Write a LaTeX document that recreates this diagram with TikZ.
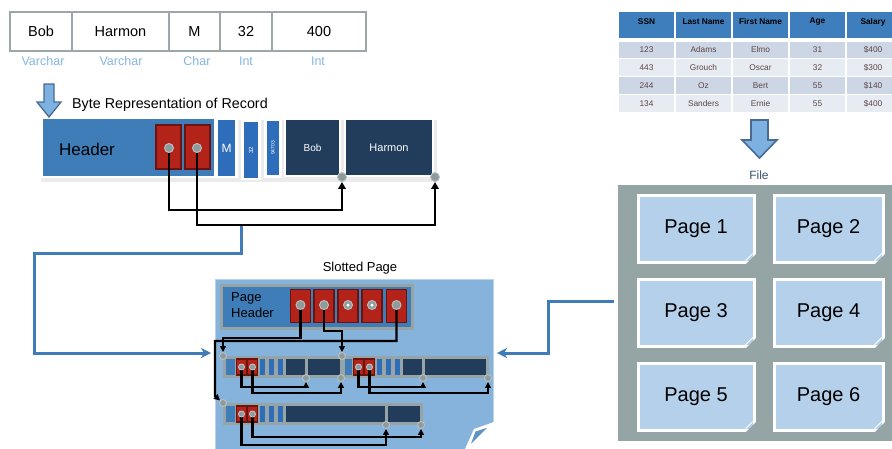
\documentclass[tikz,border=0pt]{standalone}
\usepackage{fontspec}
\setmainfont{Liberation Sans}
\usetikzlibrary{arrows.meta,calc}
\definecolor{cellgray}{HTML}{9BA7A8}
\definecolor{typeblue}{HTML}{86B6E0}
\definecolor{headblue}{HTML}{3F7DB8}
\definecolor{redfill}{HTML}{B3231A}
\definecolor{reddark}{HTML}{6A1410}
\definecolor{midblue}{HTML}{2E6DBA}
\definecolor{navy}{HTML}{213D5B}
\definecolor{pageblue}{HTML}{86B3DC}
\definecolor{pageedge}{HTML}{B9D3EC}
\definecolor{recgray}{HTML}{97A4A6}
\definecolor{filegray}{HTML}{95A4A5}
\definecolor{tileblue}{HTML}{B4D0EA}
\definecolor{connblue}{HTML}{3F7CB9}
\definecolor{tblhead}{HTML}{3F7EBD}
\definecolor{rowA}{HTML}{CCD6E5}
\definecolor{rowB}{HTML}{E7EBF2}
\definecolor{rowtext}{HTML}{5E4545}
\definecolor{pingray}{HTML}{8E9A9B}
\definecolor{pinedge}{HTML}{B8C2C3}
\definecolor{filetext}{HTML}{3B5470}
\definecolor{arrowfill}{HTML}{7DB1E1}
\definecolor{arrowdraw}{HTML}{4A6B8F}
\definecolor{foldblue}{HTML}{5F93C4}
\newcommand{\fsz}[1]{\fontsize{#1}{#1}\selectfont}
\newcommand{\dogear}[1]{%
  \fill[filegray] ($(#1.south east)+(3,-12)$) -- ($(#1.south east)+(3,3)$) -- ($(#1.south east)+(-12,3)$) -- cycle;
  \fill[white] ($(#1.south east)+(0.8,-13)$) -- ($(#1.south east)+(-13,0.8)$) .. controls ($(#1.south east)+(-9,-5)$) and ($(#1.south east)+(-5,-9)$) .. ($(#1.south east)+(0.8,-13)$) -- cycle;}
\pgfdeclarelayer{front}
\pgfsetlayers{main,front}
\begin{document}
\begin{tikzpicture}[x=1pt,y=-1pt,
  rc/.style={draw=cellgray,line width=2.8pt,minimum height=39pt,inner sep=0pt,font=\fsz{14.5}},
  typelbl/.style={text=typeblue,font=\fsz{12.5},inner sep=0pt},
  whbox/.style={draw=white,line width=2.8pt,inner sep=0pt},
  redslot/.style={fill=redfill,draw=reddark,line width=1.8pt,inner sep=0pt},
  pinc/.style={circle,fill=pingray,draw=pinedge,line width=0.9pt,inner sep=0pt,minimum size=#1},
  pinc/.default=9pt,
  blk/.style={draw=black,line width=2.5pt,-{Triangle[length=7pt,width=7.5pt]}},
  blks/.style={draw=black,line width=2.3pt,-{Triangle[length=6pt,width=6pt]}},
  conn/.style={draw=connblue,line width=3pt,-{Stealth[length=10pt,width=10pt,inset=3pt]}},
  bigarrow/.style={fill=arrowfill,draw=arrowdraw,line width=1.3pt,line join=miter},
  recbox/.style={fill=recgray,minimum height=22pt,inner sep=0pt},
  smred/.style={redslot,line width=1.2pt,minimum width=9.5pt,minimum height=16pt},
  th/.style={font=\bfseries\fsz{8.3},inner sep=0pt},
  td/.style={font=\fsz{8.3},text=rowtext,inner sep=0pt},
  tile/.style={fill=tileblue,draw=white,line width=3pt,inner sep=0pt,font=\fsz{20}}
]
\useasboundingbox (0,0) rectangle (892,448);
\fill[white] (0,0) rectangle (892,448);

% ---------- top-left record ----------
\node[rc,minimum width=62pt] (cBob) at (41,31.5) {Bob};
\node[rc,minimum width=97pt] (cHar) at (120.5,31.5) {Harmon};
\node[rc,minimum width=51pt] (cM) at (194.5,31.5) {M};
\node[rc,minimum width=52pt] (c32) at (246,31.5) {32};
\node[rc,minimum width=94pt] (c400) at (319,31.5) {400};
\node[typelbl] (tBob) at (43,61) {Varchar};
\node[typelbl] (tHar) at (121,61) {Varchar};
\node[typelbl] (tM) at (197,61) {Char};
\node[typelbl] (t32) at (246,61) {Int};
\node[typelbl] (t400) at (318,61) {Int};

% ---------- byte representation ----------
\node[anchor=west,font=\fsz{14.3},inner sep=0pt] (bytettl) at (72,105) {Byte Representation of Record};
\fill[black,opacity=0.08] (41,120) rectangle (437,182);
\node[whbox,fill=headblue,minimum width=173pt,minimum height=59pt] (hdr) at (128.5,147.5) {};
\node[font=\fsz{17},inner sep=0pt] (hdrtxt) at (87,149) {Header};
\node[redslot,minimum width=25pt,minimum height=44pt] (rs1) at (168.5,147) {};
\node[redslot,minimum width=25pt,minimum height=44pt] (rs2) at (197.5,147) {};
\node[whbox,fill=midblue,minimum width=20pt,minimum height=58pt,text=white,font=\fsz{12}] (bM) at (226.5,148) {M};
\node[whbox,fill=midblue,rotate=90,minimum width=58pt,minimum height=17pt,text=white,font=\fsz{6}] (b32) at (251,150) {32};
\node[whbox,fill=midblue,rotate=90,minimum width=57pt,minimum height=15pt,text=white,font=\fsz{5}] (b947) at (273,148) {94703};
\node[whbox,fill=navy,minimum width=55pt,minimum height=57pt,text=white,font=\fsz{10}] (bBob) at (312.5,147.5) {Bob};
\node[whbox,fill=navy,minimum width=88pt,minimum height=57pt,text=white,font=\fsz{11}] (bHar) at (389,147.5) {Harmon};
\draw[bigarrow] (44,84) -- (54,84) -- (54,102) -- (61,102) -- (49,117) -- (37,102) -- (44,102) -- cycle;

\begin{pgfonlayer}{front}
\node[pinc] (p1) at (169,148) {};
\node[pinc] (p2) at (197,148) {};
\node[pinc] (pBob) at (342,177) {};
\node[pinc] (pHar) at (435,177) {};
\end{pgfonlayer}
\draw[blk] (p1.center) -- ++(0,62) -| (pBob.south);
\draw[blk] (p2.center) -- ++(0,77) -| (pHar.south);

% ---------- slotted page ----------
\node[fill=pageblue,draw=pageedge,line width=1pt,minimum width=278pt,minimum height=180pt,inner sep=0pt] (spage) at (354,369) {};
\node[font=\fsz{13},inner sep=0pt] (sptitle) at (360,268) {Slotted Page};
\node[draw=recgray,line width=3pt,fill=headblue,minimum width=191pt,minimum height=43pt,inner sep=0pt] (phdr) at (316.5,306.5) {};
\node[anchor=west,align=left,font=\fontsize{13}{16}\selectfont,inner sep=0pt] (phtxt) at (231,305.5) {Page\\Header};
\node[redslot,minimum width=20pt,minimum height=33pt] (sl1) at (300.5,306) {};
\node[redslot,minimum width=20pt,minimum height=33pt] (sl2) at (324,306) {};
\node[redslot,minimum width=20pt,minimum height=33pt] (sl3) at (348,306) {};
\node[redslot,minimum width=20pt,minimum height=33pt] (sl4) at (372,306) {};
\node[redslot,minimum width=20pt,minimum height=33pt] (sl5) at (396.5,306) {};

% records
\node[recbox,minimum width=119pt] (rec1) at (282.5,367) {};
\node[recbox,minimum width=147pt] (rec2) at (415.5,367) {};
\node[recbox,minimum width=200pt] (rec3) at (323,414) {};
\fill[headblue] (226,359) rectangle (235,375);
\fill[headblue] (345,359) rectangle (352,375);
\fill[headblue] (226,406) rectangle (235,422);
\foreach \sx in {260,269,278} {
  \fill[midblue] (\sx,359) rectangle (\sx+5,375);
  \fill[midblue] (\sx+117,359) rectangle (\sx+122,375);
  \fill[midblue] (\sx,406) rectangle (\sx+5,422);
}
\fill[navy] (286,359) rectangle (305,375);
\fill[navy] (308,359) rectangle (340,375);
\fill[navy] (403,359) rectangle (422,375);
\fill[navy] (425,359) rectangle (486,375);
\fill[navy] (286,406) rectangle (385,422);
\fill[navy] (388,406) rectangle (420,422);
\node[smred] (r1s1) at (241.5,367) {};
\node[smred] (r1s2) at (252.5,367) {};
\node[smred] (r2s1) at (358.5,367) {};
\node[smred] (r2s2) at (369.5,367) {};
\node[smred] (r3s1) at (241.5,414) {};
\node[smred] (r3s2) at (252.5,414) {};

% page fold
\fill[white] (465,449) -- (474,429) -- (494,422) -- (494,449) -- cycle;
\filldraw[fill=foldblue,draw=white,line width=1.2pt,line join=round] (469,447) -- (475,431) -- (490,426) -- cycle;

\begin{pgfonlayer}{front}
\node[pinc] (ps1) at (300.5,305) {};
\node[pinc] (ps2) at (324,305) {};
\node[pinc] (ps3) at (348,305) {};
\node[pinc] (ps4) at (372,305) {};
\node[pinc] (ps5) at (396.5,305) {};
\node[circle,fill=white,minimum size=3.5pt,inner sep=0pt] (ps3c) at (ps3) {};
\node[circle,fill=white,minimum size=3.5pt,inner sep=0pt] (ps4c) at (ps4) {};
\node[pinc=7pt] (rec1tl) at (223,356) {};
\node[pinc=7pt] (rec2tl) at (342,356) {};
\node[pinc=7pt] (rec3tl) at (223,403) {};
\node[pinc=7pt] (r1p1) at (306,378) {};
\node[pinc=7pt] (r1p2) at (341,378) {};
\node[pinc=7pt] (r2p1) at (423,378) {};
\node[pinc=7pt] (r2p2) at (488,378) {};
\node[pinc=7pt] (r3p1) at (386,425) {};
\node[pinc=7pt] (r3p2) at (421,425) {};
\node[pinc=6pt] (r1a) at (241.5,367) {};
\node[pinc=6pt] (r1b) at (252.5,367) {};
\node[pinc=6pt] (r2a) at (358.5,367) {};
\node[pinc=6pt] (r2b) at (369.5,367) {};
\node[pinc=6pt] (r3a) at (241.5,414) {};
\node[pinc=6pt] (r3b) at (252.5,414) {};
\end{pgfonlayer}
\coordinate (bend5) at (215,396);
\draw[blks] (ps1.center) -- ++(0,33) -| (rec1tl.north);
\draw[blks] (ps2.center) -- ++(0,26) -| (rec2tl.north);
\draw[blks] (ps5.center) -- ++(0,36) -| (bend5) -- (rec3tl);
\draw[blks] (r1a.center) -- ++(0,20) -| (r1p1.south);
\draw[blks] (r1b.center) -- ++(0,26) -| (r1p2.south);
\draw[blks] (r2a.center) -- ++(0,20) -| (r2p1.south);
\draw[blks] (r2b.center) -- ++(0,26) -| (r2p2.south);
\draw[blks] (r3a.center) -- ++(0,31) -| (r3p1.south);
\draw[blks] (r3b.center) -- ++(0,23) -| (r3p2.south);

% ---------- blue connectors ----------
\coordinate (recout) at (241,226);
\coordinate (pagein) at (211,353);
\draw[conn] (recout) -- (241,253) -- (34,253) -- (34,353) -- (pagein);
\coordinate (fileport) at (614,301);
\coordinate (pageinR) at (497,353);
\draw[conn] (fileport) -- (548,301) -- (548,353) -- (pageinR);

% ---------- table ----------
\foreach \a/\b in {619/674,676/731,733/788,790/845,847/895} {
  \fill[tblhead] (\a,12) rectangle (\b,38);
}
\foreach \y/\c in {41.5/rowA,59.3/rowB,77.1/rowA,94.9/rowB} {
  \foreach \a/\b in {619/674,676/731,733/788,790/845,847/895} {
    \fill[\c] (\a,\y) rectangle (\b,\y+16.6);
  }
}
\node[th] (hSSN) at (646.5,22) {SSN};
\node[th] (hLN) at (703.5,22) {Last Name};
\node[th] (hFN) at (760.5,22) {First Name};
\node[th] (hAge) at (817.5,22) {Age};
\node[th] (hSal) at (873,22) {Salary};
\node[td] (d11) at (646.5,50) {123};
\node[td] (d12) at (703.5,50) {Adams};
\node[td] (d13) at (760.5,50) {Elmo};
\node[td] (d14) at (817.5,50) {31};
\node[td] (d15) at (873,50) {\$400};
\node[td] (d21) at (646.5,67.5) {443};
\node[td] (d22) at (703.5,67.5) {Grouch};
\node[td] (d23) at (760.5,67.5) {Oscar};
\node[td] (d24) at (817.5,67.5) {32};
\node[td] (d25) at (873,67.5) {\$300};
\node[td] (d31) at (646.5,85.5) {244};
\node[td] (d32) at (703.5,85.5) {Oz};
\node[td] (d33) at (760.5,85.5) {Bert};
\node[td] (d34) at (817.5,85.5) {55};
\node[td] (d35) at (873,85.5) {\$140};
\node[td] (d41) at (646.5,103.5) {134};
\node[td] (d42) at (703.5,103.5) {Sanders};
\node[td] (d43) at (760.5,103.5) {Ernie};
\node[td] (d44) at (817.5,103.5) {55};
\node[td] (d45) at (873,103.5) {\$400};
\draw[bigarrow,line width=1.6pt] (751,120) -- (768,120) -- (768,140) -- (777,140) -- (759.5,158) -- (742,140) -- (751,140) -- cycle;

% ---------- file ----------
\node[text=filetext,font=\fsz{12},inner sep=0pt] (filettl) at (759,175) {File};
\node[fill=filegray,draw=white,line width=3.5pt,minimum width=281pt,minimum height=260pt,inner sep=0pt] (file) at (756.5,313) {};
\node[tile,minimum width=116pt,minimum height=67pt] (pg1) at (696,228.5) {Page 1};
\node[tile,minimum width=109pt,minimum height=67pt] (pg2) at (828.5,228.5) {Page 2};
\node[tile,minimum width=116pt,minimum height=67pt] (pg3) at (696,312.5) {Page 3};
\node[tile,minimum width=109pt,minimum height=67pt] (pg4) at (828.5,312.5) {Page 4};
\node[tile,minimum width=116pt,minimum height=67pt] (pg5) at (696,396.5) {Page 5};
\node[tile,minimum width=109pt,minimum height=67pt] (pg6) at (828.5,396.5) {Page 6};
\dogear{pg1}\dogear{pg2}\dogear{pg3}\dogear{pg4}\dogear{pg5}\dogear{pg6}
\end{tikzpicture}
\end{document}
